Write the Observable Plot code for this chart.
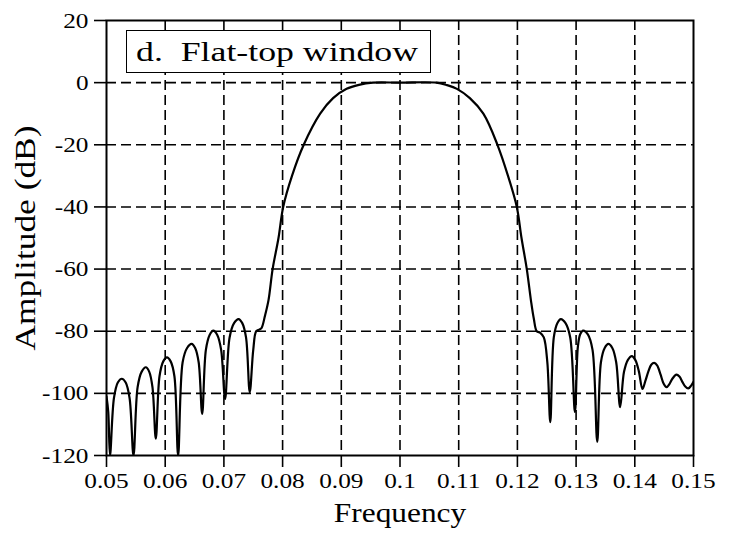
<!DOCTYPE html>
<html>
<head>
<meta charset="utf-8">
<script src="https://cdn.jsdelivr.net/npm/d3@7"></script>
<script src="https://cdn.jsdelivr.net/npm/@observablehq/plot@0.6"></script>
<style>
  body { margin: 0; background: #fff; }
  #wrap { position: relative; width: 729px; height: 539px; }
  #legend {
    position: absolute; left: 126px; top: 30px; width: 294px; height: 41px;
    border: 1.5px solid #000; background: #fff;
    font-family: "Liberation Serif", serif; font-size: 28px; line-height: 41px;
    padding-left: 9px; box-sizing: content-box; white-space: pre; color: #000;
  }
  #legend span { display: inline-block; transform-origin: 0 50%; }
</style>
</head>
<body>
<div id="wrap"></div>
<script>
// Frequency (x) and amplitude in dB (y)
const freq = [
  0.0500, 0.0503, 0.0506, 0.05127, 0.05193, 0.0526, 0.05327, 0.05393, 0.0546,
  0.0553, 0.0560, 0.0567, 0.05727, 0.05783, 0.0584,
  0.05903, 0.05967, 0.0603, 0.06093, 0.06157, 0.0622,
  0.06297, 0.06373, 0.0645, 0.0651, 0.0657, 0.0663,
  0.06693, 0.06757, 0.0682, 0.06887, 0.06953, 0.0702,
  0.07097, 0.07173, 0.0725, 0.07313, 0.07377, 0.0744,
  0.0750, 0.0755, 0.0760, 0.0764,
  0.0770, 0.0776, 0.0783, 0.0793, 0.0801, 0.0816, 0.0836, 0.0864, 0.0886, 0.0909, 0.0930, 0.0954,
  0.1000, 0.1062, 0.1080, 0.1097, 0.1119, 0.1142, 0.1166, 0.1184, 0.1199, 0.1207, 0.1216, 0.1223, 0.1228, 0.1233,
  0.1239, 0.1245, 0.1251, 0.1256,
  0.1262, 0.1268, 0.1274, 0.1282, 0.1290, 0.1298,
  0.1303, 0.1307, 0.1312, 0.1320, 0.1328, 0.1336,
  0.13423, 0.13487, 0.1355, 0.13617, 0.13683, 0.1375,
  0.13817, 0.13883, 0.1395, 0.1401, 0.1407, 0.1413,
  0.1418, 0.1423, 0.1428, 0.1433, 0.1438, 0.1444, 0.1449, 0.1454, 0.1459, 0.1464, 0.1471,
  0.1476, 0.1481, 0.1486, 0.1491, 0.1496, 0.1500
];
const amplitude = [
  -101, -106, -120, -101.5, -96.5, -95.3, -96.5, -101.5, -120,
  -98, -93, -91.6, -93, -98, -114.6,
  -94.5, -89.7, -88.4, -89.7, -94.5, -120,
  -90, -85.4, -84.1, -85.4, -90, -106.6,
  -86, -81.2, -79.8, -81.2, -86, -101.8,
  -82, -77.4, -76.1, -77.4, -82, -99.6,
  -86, -80, -79.5, -79,
  -75, -70, -60, -50, -40, -30, -20, -10, -5, -2, -0.7, 0,
  0, 0, -0.8, -2, -5, -10, -20, -30, -40, -50, -60, -70, -76, -80,
  -80.5, -82, -90, -109.3,
  -82, -77.4, -76.1, -77.4, -82, -106,
  -85, -81, -79.8, -81, -86, -115.6,
  -90, -85.4, -84.1, -85.4, -90, -104.4,
  -93, -89.2, -88, -89.3, -93, -98.6,
  -96, -93, -90.8, -90.2, -91, -94, -96.8, -98, -97, -95.3, -94,
  -94.6, -96.3, -97.8, -98.4, -97.5, -96.3
];
const xTicks = [0.05, 0.06, 0.07, 0.08, 0.09, 0.1, 0.11, 0.12, 0.13, 0.14, 0.15];
const yTicks = [20, 0, -20, -40, -60, -80, -100, -120];
const xGrid = [0.06, 0.07, 0.08, 0.09, 0.1, 0.11, 0.12, 0.13, 0.14];
const yGrid = [0, -20, -40, -60, -80, -100];
const title = "d.  Flat-top window";

const data = freq.map((f, i) => ({f, a: amplitude[i]}));

const chart = Plot.plot({
  width: 729,
  height: 539,
  marginLeft: 106,
  marginRight: 36,
  marginTop: 20,
  marginBottom: 84,
  style: {fontFamily: "'Liberation Serif', serif", fontSize: "22px", color: "#000", background: "#fff"},
  x: {domain: [0.05, 0.15]},
  y: {domain: [-120, 20]},
  marks: [
    Plot.gridX(xGrid, {stroke: "#000", strokeOpacity: 1, strokeWidth: 1.6, strokeDasharray: "10,5"}),
    Plot.gridY(yGrid, {stroke: "#000", strokeOpacity: 1, strokeWidth: 1.6, strokeDasharray: "10,5"}),
    Plot.line(data, {x: "f", y: "a", curve: "catmull-rom", stroke: "#000", strokeWidth: 2.2, clip: true}),
    Plot.frame({stroke: "#000", strokeWidth: 2}),
    Plot.axisX(xTicks, {
      tickSize: 12, tickPadding: 5, tickFormat: d => String(d), fontSize: 22,
      stroke: "#000", strokeWidth: 1.6,
      label: "Frequency", labelAnchor: "center", labelArrow: "none", labelOffset: 66
    }),
    Plot.axisY(yTicks, {
      tickSize: 12, tickPadding: 6, tickFormat: d => String(d), fontSize: 22,
      stroke: "#000", strokeWidth: 1.6,
      label: "Amplitude (dB)", labelAnchor: "center", labelArrow: "none", labelOffset: 92
    })
  ]
});
const wrap = document.getElementById("wrap");
wrap.appendChild(chart);

// widen glyphs horizontally to match the reference's letterforms
function stretch(sel, factor) {
  chart.querySelectorAll(sel).forEach(t => {
    const w = t.getComputedTextLength();
    t.setAttribute("textLength", (w * factor).toFixed(1));
    t.setAttribute("lengthAdjust", "spacingAndGlyphs");
  });
}
stretch("g[aria-label='x-axis tick label'] text, g[aria-label='y-axis tick label'] text", 1.15);
chart.querySelectorAll("g[aria-label='x-axis label'] text").forEach(t => {
  t.setAttribute("font-size", "28");
});
chart.querySelectorAll("g[aria-label='y-axis label'] text").forEach(t => {
  t.setAttribute("font-size", "29");
});
stretch("g[aria-label='x-axis label'] text", 1.12);
stretch("g[aria-label='y-axis label'] text", 1.22);

const lg = document.createElement("div");
lg.id = "legend";
const sp = document.createElement("span");
sp.textContent = title;
lg.appendChild(sp);
wrap.appendChild(lg);
const w0 = sp.getBoundingClientRect().width;
sp.style.transform = `scaleX(${(282 / w0).toFixed(3)})`;
</script>
</body>
</html>
